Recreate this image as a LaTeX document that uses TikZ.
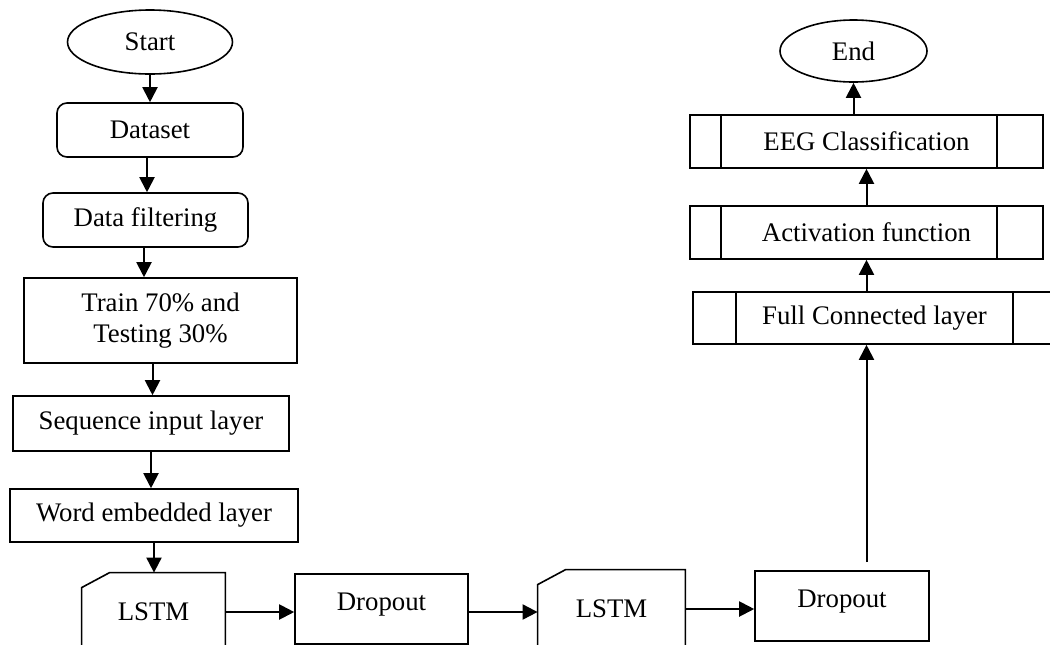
\documentclass[tikz,border=0pt]{standalone}
\usepackage{fontspec}
\setmainfont{Liberation Serif}
\usetikzlibrary{positioning,shapes.geometric,arrows.meta}

\begin{document}
\begin{tikzpicture}[
    x=0.5pt, y=-0.5pt,
    every node/.style={font=\fontsize{13.4}{15.5}\selectfont},
    block/.style={draw, rectangle, line width=0.8pt, align=center, inner sep=0pt},
    roundblock/.style={block, rounded corners=5pt},
    term/.style={draw, ellipse, line width=0.8pt, inner sep=0pt},
    procbox/.style 2 args={block, minimum height=26.5pt,
        path picture={
            \draw[line width=0.8pt] ([xshift=#1]path picture bounding box.north west) -- ([xshift=#1]path picture bounding box.south west);
            \draw[line width=0.8pt] ([xshift=-#2]path picture bounding box.north east) -- ([xshift=-#2]path picture bounding box.south east);
        }},
    lstmbox/.style={rectangle, inner sep=0pt, text height=23.75pt, text depth=15.25pt,
        append after command={\pgfextra{
            \draw[line width=0.8pt] (\tikzlastnode.south west) -- ([yshift=-7.5pt]\tikzlastnode.north west)
                -- ([xshift=14pt]\tikzlastnode.north west) -- (\tikzlastnode.north east) -- (\tikzlastnode.south east);}}},
    dropbox/.style={block, text height=18.25pt, text depth=16.75pt},
    arrow/.style={-{Triangle[length=7.5pt,width=7.5pt]}, line width=1pt}
]
\useasboundingbox (0,0) rectangle (1050,644);
\clip (0,0) rectangle (1050,644);

% left column
\node[term, minimum width=82.5pt, minimum height=32pt] (start) at (150,42) {Start};
\node[roundblock, minimum width=93pt, minimum height=27pt] (dataset) at (150,130) {Dataset};
\node[roundblock, minimum width=102.5pt, minimum height=27pt] (filter) at (145.5,220) {Data filtering};
\node[block, minimum width=136.5pt, minimum height=42.5pt] (split) at (160.5,320.5) {Train 70\% and\\Testing 30\%};
\node[block, minimum width=138pt, minimum height=27.5pt] (seqin) at (151,423.5) {Sequence input layer};
\node[block, minimum width=144pt, minimum height=26.5pt] (embed) at (154,515.5) {Word embedded layer};

% bottom row
\node[lstmbox, minimum width=71.5pt] (lstma) at (153.5,612) {LSTM};
\node[dropbox, minimum width=86.5pt] (dropa) at (381.5,609) {Dropout};
\node[lstmbox, minimum width=73.5pt] (lstmb) at (611.5,609) {LSTM};
\node[dropbox, minimum width=87pt] (dropb) at (842,606) {Dropout};

% right column
\node[procbox={21.5pt}{21.5pt}, minimum width=181.5pt, minimum height=26pt] (fcl) at (874.5,318) {Full Connected layer};
\node[procbox={15.5pt}{23pt}, minimum width=176.5pt] (act) at (866.5,232.5) {Activation function};
\node[procbox={15.5pt}{23pt}, minimum width=176.5pt] (eeg) at (866.5,141.5) {EEG Classification};
\node[term, minimum width=73.5pt, minimum height=31pt] (finish) at (853.5,51) {End};

\draw[arrow] (start.south) -- (start.south |- dataset.north);
\draw[arrow] ([xshift=-1.5pt]dataset.south) -- ([xshift=-1.5pt]dataset.south |- filter.north);
\draw[arrow] ([xshift=-0.75pt]filter.south) -- ([xshift=-0.75pt]filter.south |- split.north);
\draw[arrow] ([xshift=-4pt]split.south) -- ([xshift=-4pt]split.south |- seqin.north);
\draw[arrow] (seqin.south) -- (seqin.south |- embed.north);
\draw[arrow] (embed.south) -- (embed.south |- lstma.north);

\draw[arrow] (lstma.east) -- (dropa.west |- lstma.east);
\draw[arrow] ([yshift=-1.5pt]dropa.east) -- ([yshift=-1.5pt]dropa.east -| lstmb.west);
\draw[arrow] (lstmb.east) -- (lstmb.east -| dropb.west);
\draw[arrow, shorten <=4pt] (dropb.north -| act) -- (fcl.south -| act);

\draw[arrow] (fcl.north -| act) -- (act.south);
\draw[arrow] (act) -- (eeg);
\draw[arrow] (eeg.north -| finish) -- (finish.south);
\end{tikzpicture}
\end{document}
